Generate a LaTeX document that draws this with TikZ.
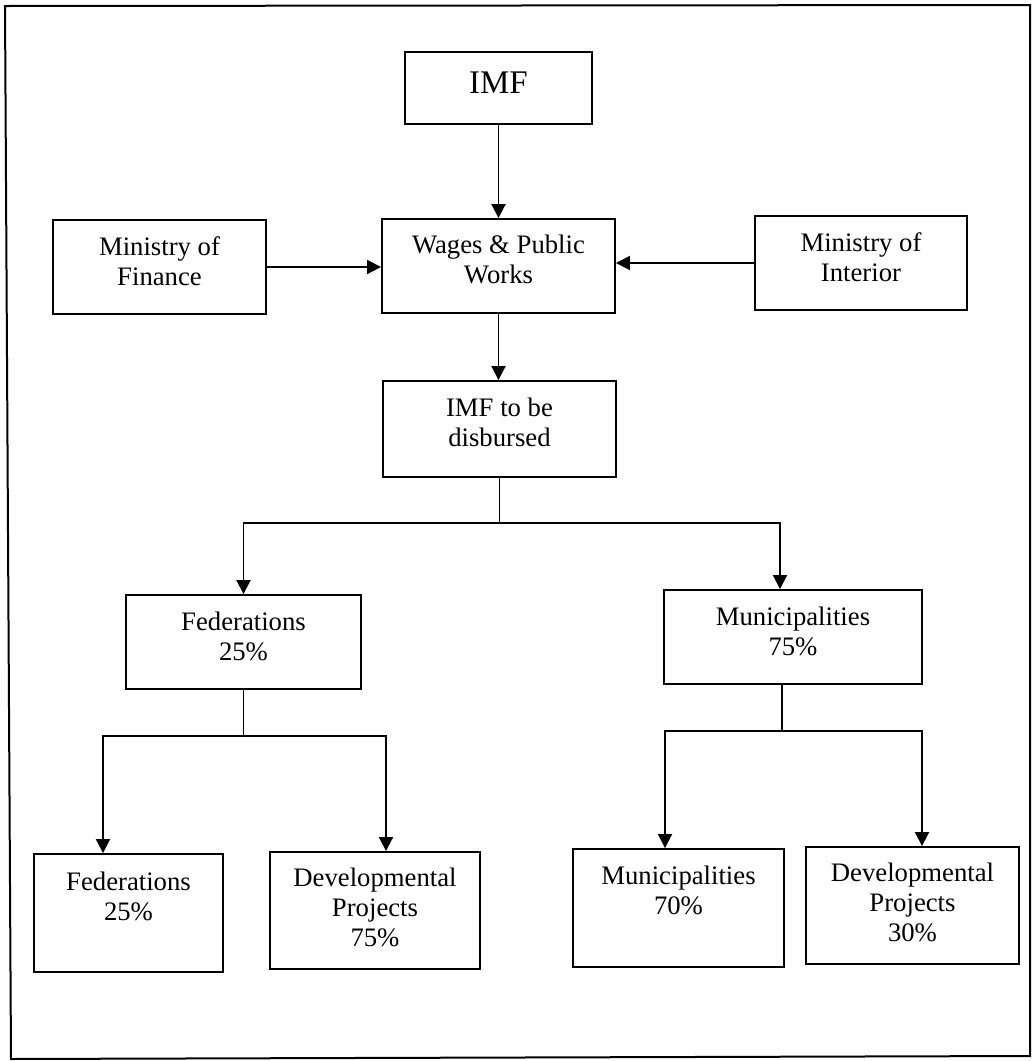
\documentclass[tikz,border=0pt]{standalone}
\usepackage{fontspec}
\setmainfont{Liberation Serif}
\usetikzlibrary{arrows.meta}
\begin{document}
\begin{tikzpicture}[x=1pt,y=-1pt,
  box/.style n args={2}{draw, line width=1.9pt, minimum width=#1, minimum height=#2, inner sep=0pt},
  txt/.style={font=\fontsize{26.7}{30}\selectfont, align=center, inner sep=0pt},
  ln/.style={line width=1.9pt},
  arr/.style={line width=1.9pt, -{Triangle[length=14pt,width=14pt]}}]
\useasboundingbox (0,0) rectangle (1032,1061);
\draw[line width=2pt] (5,6) -- (1030,5) -- (1030,1056) -- (11,1059) -- cycle;
% boxes
\node[box={187}{72}]  (imf)   at (498.5,88)  {};
\node[box={233}{94}]  (wages) at (498.5,266) {};
\node[box={213}{94}]  (mof)   at (159.5,267) {};
\node[box={212}{94}]  (moi)   at (861,263)   {};
\node[box={233}{96}]  (disb)  at (499.5,429) {};
\node[box={235}{94}]  (fed1)  at (243.5,642) {};
\node[box={258}{94}]  (mun1)  at (793,637)   {};
\node[box={189}{118}] (fed2)  at (128.5,913) {};
\node[box={210}{117}] (dev1)  at (375,910.5) {};
\node[box={211}{118}] (mun2)  at (678.5,908) {};
\node[box={213}{117}] (dev2)  at (912.5,905.5) {};
% texts
\node[txt, font=\fontsize{33}{36}\selectfont] (imf-t) at (498.5,82.5) {IMF};
\node[txt] (wages-t) at (498.5,259) {Wages \& Public\\Works};
\node[txt] (mof-t)   at (159.5,261) {Ministry of\\Finance};
\node[txt] (moi-t)   at (861,257)   {Ministry of\\Interior};
\node[txt] (disb-t)  at (499.5,422) {IMF to be\\disbursed};
\node[txt] (fed1-t)  at (243.5,636.5) {Federations\\25\%};
\node[txt] (mun1-t)  at (793,631)   {Municipalities\\75\%};
\node[txt] (fed2-t)  at (128.5,896) {Federations\\25\%};
\node[txt] (dev1-t)  at (375,907)   {Developmental\\Projects\\75\%};
\node[txt] (mun2-t)  at (678.5,890) {Municipalities\\70\%};
\node[txt] (dev2-t)  at (912.5,902) {Developmental\\Projects\\30\%};
% junction points
\coordinate (j1l) at (243.5,523);
\coordinate (j1r) at (780,523);
\coordinate (j2l) at (103,736);
\coordinate (j2r) at (386,736);
\coordinate (j3)  at (782,731);
\coordinate (j3l) at (665,731);
\coordinate (j3r) at (922,731);
% connectors
\draw[arr] (imf.south) -- (imf.south |- wages.north);
\draw[arr] (mof.east) -- (mof.east -| wages.west);
\draw[arr] (moi.west) -- (moi.west -| wages.east);
\draw[arr] (wages.south) -- (wages.south |- disb.north);
\draw[arr] (disb.south) |- (j1l) -- (fed1.north);
\draw[arr] (disb.south |- j1l) -| (j1r |- mun1.north);
\draw[arr] (fed1.south) |- (j2l) -- (j2l |- fed2.north);
\draw[arr] (fed1.south |- j2l) -| (j2r |- dev1.north);
\draw[arr] (mun1.south -| j3) |- (j3l) -- (j3l |- mun2.north);
\draw[arr] (j3) -| (j3r |- dev2.north);
\end{tikzpicture}
\end{document}
